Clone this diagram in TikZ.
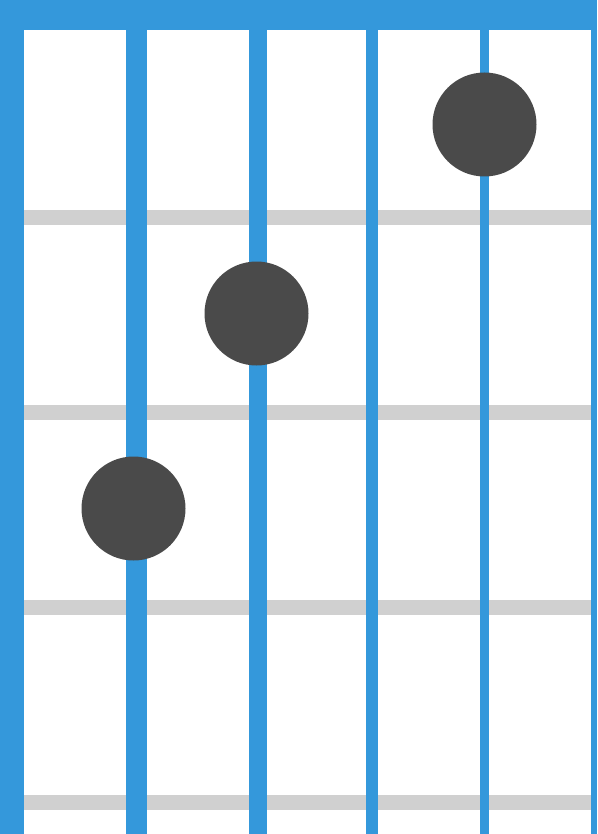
\documentclass[tikz,border=0pt]{standalone}
\usepackage{xcolor}
\usepackage{tikz}
\definecolor{nutblue}{HTML}{3498DB}
\definecolor{fretgray}{HTML}{D0D0D0}
\definecolor{dotgray}{HTML}{4A4A4A}

\begin{document}
\begin{tikzpicture}[
  x=1pt, y=-1pt,
  fret/.style={fill=fretgray},
  gstring/.style={fill=nutblue},
  finger/.style={circle, fill=dotgray, minimum size=104pt, inner sep=0pt}]
\useasboundingbox (0,0) rectangle (597,834);
% frets
\foreach \y in {210,405,600,795}
  \fill[fret] (24,\y) rectangle (591,\y+15);
% strings, thick to thin
\fill[gstring] (0,0) rectangle (24,834);
\fill[gstring] (126,0) rectangle (147,834);
\fill[gstring] (249,0) rectangle (267,834);
\fill[gstring] (366,0) rectangle (378,834);
\fill[gstring] (480,0) rectangle (489,834);
\fill[gstring] (591,0) rectangle (597,834);
% nut
\fill[gstring] (0,0) rectangle (597,30);
% fingers
\node[finger] (fa) at (484.5,124.5) {};
\node[finger] (fb) at (256.5,313.5) {};
\node[finger] (fc) at (133.5,508.5) {};
\end{tikzpicture}
\end{document}
